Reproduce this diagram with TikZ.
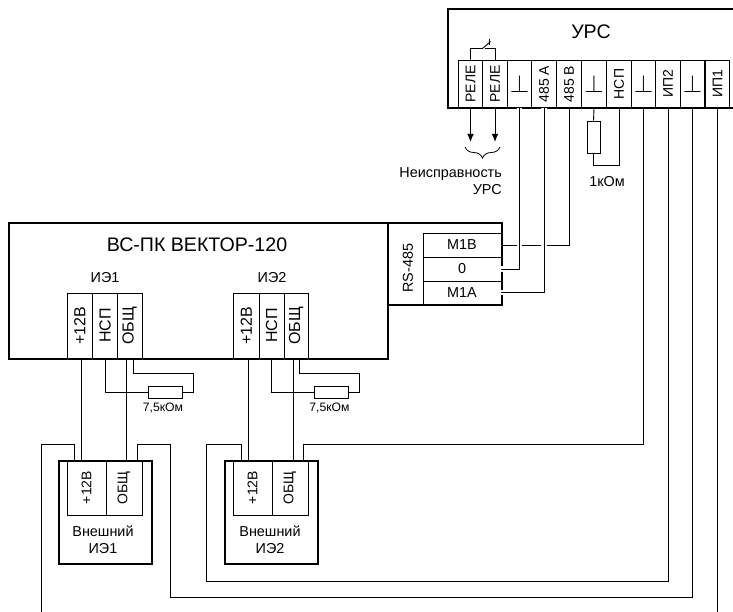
\documentclass[tikz,border=0pt]{standalone}
\usepackage{fontspec}
\usepackage{graphicx}
\setmainfont{Liberation Sans}
\usepackage{amsmath, amssymb}
\usetikzlibrary{arrows.meta, positioning, calc, decorations.pathreplacing}
\tikzset{
  heavy/.style={line width=1.9pt},
  wire/.style={line width=0.9pt},
  halo/.style={preaction={draw=white, line width=5.5pt}},
  cell/.style={draw, line width=0.9pt, inner sep=0pt, font=\fontsize{14}{16}\selectfont},
  ursterm/.style={cell, minimum width=24.4pt, minimum height=48pt},
  ieterm/.style={cell, minimum height=65pt, font=\fontsize{16}{18}\selectfont},
  extterm/.style={cell, minimum height=55pt},
  rsterm/.style={cell, minimum width=78pt, font=\fontsize{14.4}{16}\selectfont},
  resistor/.style={draw, line width=0.9pt, fill=white, inner sep=0pt},
  lbl/.style={font=\fontsize{14.4}{16}\selectfont, inner sep=0pt},
  smalllbl/.style={font=\fontsize{12.2}{14}\selectfont, inner sep=0pt},
  title/.style={font=\fontsize{19.6}{22}\selectfont, inner sep=0pt},
  relayarrow/.style={wire, -{Latex[length=8pt, width=6.5pt]}}
}
\newcommand{\vtext}[1]{\rotatebox{90}{#1}}
\begin{document}
\begin{tikzpicture}[x=1pt, y=-1pt]
  \useasboundingbox (0,0) rectangle (733,612);

  % URS block, open at the right edge
  \draw[heavy] (733,9) -- (448,9) -- (448,108) -- (733,108);
  \node[title] (urstitle) at (591,32) {УРС};
  \foreach \n/\x/\t in {rel1/470.5/РЕЛЕ, rel2/495/РЕЛЕ, a485/544/485 A, b485/569/485 B,
      nsp/619/НСП, ip2/668/ИП2, ip1/717.5/ИП1}
    \node[ursterm] (\n) at (\x,84) {\vtext{\t}};
  \foreach \n/\x in {gnda/519.5, gndb/594, gndc/643.5, gndd/692.5}
    \node[ursterm, font=\fontsize{25}{25}\selectfont] (\n) at (\x,84) {$\perp$};

  % relay contact
  \draw[wire] (rel1.north) -- ++(0,-11) -- ++(12,0) -- ++(8,-7);
  \draw[wire] (rel2.north) -- ++(0,-11) -- ++(-10,0);
  \draw[wire] (489,39) -- (489,45);

  % fault outputs
  \coordinate (reltipa) at (470.5,142);
  \coordinate (reltipb) at (495,142);
  \draw[relayarrow] (rel1.south) -- (reltipa);
  \draw[relayarrow] (rel2.south) -- (reltipb);
  \coordinate (bracea) at (465,147);
  \coordinate (braceb) at (500,147);
  \draw[line width=0.8pt, decorate, decoration={brace, mirror, amplitude=11pt}] (bracea) -- (braceb);
  \node[lbl, align=right, anchor=north east] (faultlbl) at (502,167) {Неисправность\\[1pt]УРС};

  % 1 kOhm loop
  \node[resistor, minimum width=13pt, minimum height=32pt] (rone) at (593.5,137) {};
  \draw[wire] (gndb.south) -- (rone.north);
  \coordinate (ronecorner) at (593.5,165);
  \draw[wire] (rone.south) -- (ronecorner) -| (nsp.south);
  \node[lbl] (ronelbl) at (607,182) {1кОм};

  % main block
  \node[draw, heavy, minimum width=379pt, minimum height=136pt, anchor=north west, inner sep=0pt] (vector) at (8,222) {};
  \node[draw, heavy, minimum width=114pt, minimum height=82pt, anchor=north west, inner sep=0pt] (rsbox) at (387,222) {};
  \node[title] (vectortitle) at (197,245) {ВС-ПК ВЕКТОР-120};
  \node[lbl] (rslbl) at (408,268) {\vtext{RS-485}};
  \node[rsterm, minimum height=24pt] (mb) at (462,245) {M1B};
  \node[rsterm, minimum height=24pt] (mz) at (462,269) {0};
  \node[rsterm, minimum height=23pt] (ma) at (462,292.5) {M1A};

  % RS-485 lines
  \draw[wire] (mb.east) -- (b485.south |- mb.east) -- (b485.south);
  \draw[wire, halo] (gnda.south) |- (mz.east);
  \draw[wire, halo] (a485.south) |- (ma.east);

  % sensor inputs
  \node[lbl] (ieonelbl) at (105,278) {ИЭ1};
  \node[lbl] (ietwolbl) at (272,278) {ИЭ2};
  \foreach \k/\x in {one/105, two/271.5} {
    \node[ieterm, minimum width=25.5pt] (p\k) at (\x-25.25,325.5) {\vtext{+12В}};
    \node[ieterm, minimum width=25pt] (n\k) at (\x,325.5) {\vtext{НСП}};
    \node[ieterm, minimum width=24.5pt] (g\k) at (\x+24.75,325.5) {\vtext{ОБЩ}};
    \node[resistor, minimum width=34pt, minimum height=12pt] (r\k) at (\x+60,392) {};
    \node[smalllbl] (rl\k) at (\x+58,408) {7,5кОм};
    \draw[wire] (n\k.south) |- (r\k.west);
    \coordinate (c\k) at (\x+88,373);
    \draw[wire] (r\k.east) -| (c\k) -- ([xshift=3.5pt]g\k.south |- c\k) -- ([xshift=3.5pt]g\k.south);
  }

  % external sensors
  \node[draw, heavy, minimum width=93pt, minimum height=103pt, anchor=north west, inner sep=0pt] (extone) at (58,460) {};
  \node[draw, heavy, minimum width=93pt, minimum height=103pt, anchor=north west, inner sep=0pt] (exttwo) at (224,460) {};
  \node[extterm, minimum width=39pt] (eponea) at (86.5,487.5) {\vtext{+12В}};
  \node[extterm, minimum width=36pt] (egonea) at (124,487.5) {\vtext{ОБЩ}};
  \node[extterm, minimum width=39pt] (eptwoa) at (252.5,487.5) {\vtext{+12В}};
  \node[extterm, minimum width=36pt] (egtwoa) at (290,487.5) {\vtext{ОБЩ}};
  \node[lbl, align=center] (extonelbl) at (103,539.5) {Внешний\\[1pt]ИЭ1};
  \node[lbl, align=center] (exttwolbl) at (270,539.5) {Внешний\\[1pt]ИЭ2};

  % sensor wiring
  \draw[wire] ([xshift=2pt]pone.south) -- ([xshift=2pt]pone.south |- extone.north);
  \draw[wire] ([xshift=-3pt]gone.south) -- ([xshift=-3pt]gone.south |- extone.north);
  \draw[wire] ([xshift=2pt]ptwo.south) -- ([xshift=2pt]ptwo.south |- exttwo.north);
  \draw[wire] ([xshift=-3pt]gtwo.south) -- ([xshift=-3pt]gtwo.south |- exttwo.north);

  % lines back to the URS
  \coordinate (busa) at (41,444);
  \coordinate (busb) at (170,444);
  \coordinate (busc) at (206,444);
  \coordinate (busd) at (170,597);
  \coordinate (buse) at (206,581);
  \coordinate (offa) at (41,612);
  \draw[wire] (74,460) |- (busa) -- (offa);
  \draw[wire] (ip1.south) -- (ip1.south |- offa);
  \draw[wire] (137,460) |- (busb) -- (busd) -- (gndd.south |- busd) -- (gndd.south);
  \draw[wire] (241,460) |- (busc) -- (buse) -- (ip2.south |- buse) -- (ip2.south);
  \draw[wire] (303,460) |- (gndc.south |- busa) -- (gndc.south);
\end{tikzpicture}
\end{document}
